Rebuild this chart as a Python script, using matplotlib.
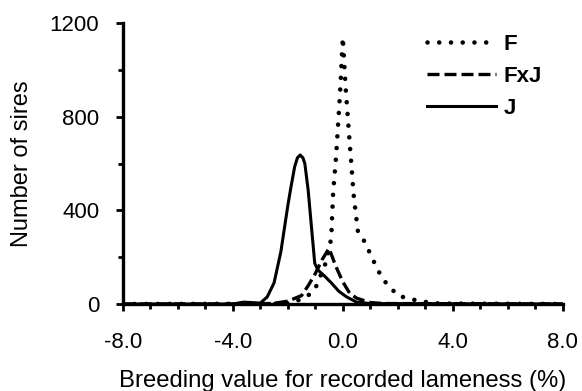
import matplotlib
matplotlib.use("Agg")
import matplotlib.pyplot as plt
from matplotlib.ticker import MultipleLocator

plt.rcParams["font.family"] = ["Liberation Sans", "DejaVu Sans"]

# === Data ===
x_f = [-8.0, -2.5, -2.0, -1.5, -1.14, -0.9, -0.78, -0.6, -0.42, -0.35,
       -0.25, -0.1, 0.0, 0.1, 0.25, 0.4, 0.55, 0.75, 1.0, 1.25, 1.5, 2.0,
       2.5, 3.0, 3.5, 8.0]
y_f = [0, 1, 4, 20, 46, 88, 131, 181, 281, 480,
       620, 900, 1140, 930, 690, 460, 310, 275, 215, 150, 100, 36,
       20, 9, 2, 0]

x_fxj = [-8.0, -3.0, -2.5, -2.0, -1.5, -1.25, -1.0, -0.75, -0.5, -0.25, 0.0,
         0.25, 0.5, 1.0, 1.5, 8.0]
y_fxj = [0, 0, 3, 12, 36, 80, 130, 190, 238, 160, 95,
         46, 25, 6, 2, 0]

x_j = [-8.0, -4.0, -3.6, -3.3, -3.0, -2.75, -2.5, -2.25, -2.0, -1.9, -1.75,
       -1.65, -1.55, -1.45, -1.38, -1.26, -1.14, -1.02, -0.9, -0.65, -0.4,
       -0.15, 0.13, 0.5, 1.0, 8.0]
y_j = [0, 0, 8, 6, 4, 30, 90, 225, 420, 490, 587,
       625, 637, 625, 600, 487, 330, 174, 145, 118, 88,
       55, 31, 8, 2, 0]

labels = ["F", "FxJ", "J"]

# === Plot ===
fig = plt.figure(figsize=(5.82, 3.91), dpi=100)
ax = fig.add_axes([0.211, 0.2225, 0.756, 0.718])

ax.plot(x_f, y_f, color="black", lw=3.3, linestyle=(0, (0.01, 2.55)),
        dash_capstyle="round", label=labels[0])
ax.plot(x_fxj, y_fxj, color="black", lw=2.4, linestyle=(0, (3.6, 1.5)),
        label=labels[1])
ax.plot(x_j, y_j, color="black", lw=2.2, label=labels[2])

ax.set_xlim(-8, 8)
ax.set_ylim(0, 1200)
ax.xaxis.set_major_locator(MultipleLocator(4))
ax.xaxis.set_minor_locator(MultipleLocator(1))
ax.yaxis.set_major_locator(MultipleLocator(400))
ax.yaxis.set_minor_locator(MultipleLocator(200))
ax.xaxis.set_major_formatter(plt.FuncFormatter(lambda v, p: f"{v:.1f}"))

for s in ["top", "right"]:
    ax.spines[s].set_visible(False)
for s in ["left", "bottom"]:
    ax.spines[s].set_linewidth(2.4)

ax.tick_params(which="major", length=5, width=2, labelsize=16)
ax.tick_params(which="minor", length=3.5, width=2)
ax.tick_params(axis="x", which="both", direction="out", pad=15)
ax.tick_params(axis="y", which="both", pad=12)

ax.set_xlabel("Breeding value for recorded lameness (%)", fontsize=17.2,
              va="center")
ax.xaxis.set_label_coords(0.5, -0.274)
ax.set_ylabel("Number of sires", fontsize=17, va="center")
ax.yaxis.set_label_coords(-0.23, 0.5)

ax.legend(frameon=False, loc="upper left", bbox_to_anchor=(0.734, 0.914),
          bbox_transform=fig.transFigure, borderpad=0, borderaxespad=0,
          handlelength=3.1, handletextpad=0.35, labelspacing=0.5,
          prop={"weight": "bold", "size": 16})

fig.savefig("out.png", dpi=100)
